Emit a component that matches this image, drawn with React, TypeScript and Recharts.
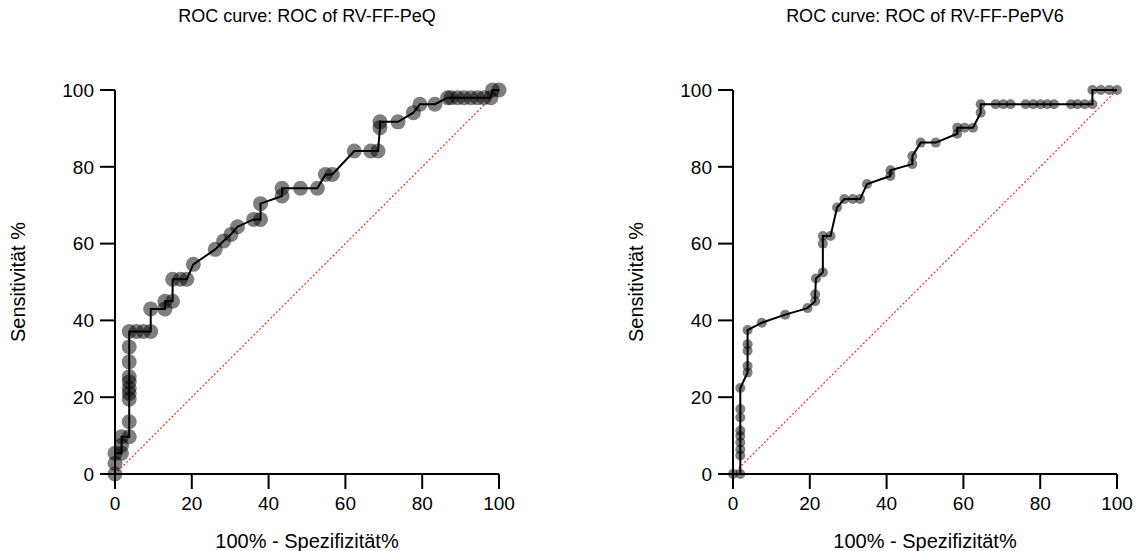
import React from "react";
import { ScatterChart, Scatter, XAxis, YAxis } from "recharts";

// ROC points (x = 100% - Spezifizität%, y = Sensitivität %)
const peqX = [0, 0, 0, 1.7, 1.7, 1.7, 3.7, 3.7, 3.7, 3.7, 3.7, 3.7, 3.7, 3.7, 3.7, 3.7, 5.6, 7.4, 9.3, 9.3, 13, 13, 15, 15, 17, 18.7, 20.4, 26.1, 28.3, 30.2, 31.9, 36.1, 37.9, 37.9, 43.5, 43.5, 48.3, 52.7, 54.8, 56.6, 62.3, 66.6, 68.5, 69, 69, 73.7, 77.7, 79.4, 83.3, 86.6, 87.5, 89.2, 90.9, 92.7, 94.4, 96.1, 97.9, 98.3, 100];
const peqY = [0, 2.8, 5.4, 5.4, 7.5, 9.7, 9.7, 13.6, 19.5, 21, 22.3, 24, 25.3, 29.2, 33.1, 37.1, 37.1, 37.1, 37.1, 43, 43, 45, 45, 50.7, 50.7, 50.7, 54.6, 58.5, 60.7, 62.4, 64.4, 66.3, 66.3, 70.4, 72.4, 74.4, 74.4, 74.4, 78, 78, 84.1, 84.1, 84.1, 90.2, 91.7, 91.7, 94.1, 96.3, 96.3, 98, 98, 98, 98, 98, 98, 98, 98, 100, 100];

const pv6X = [0, 1.9, 1.9, 1.9, 1.9, 1.9, 1.9, 1.9, 1.9, 1.9, 3.8, 3.8, 3.8, 3.8, 3.8, 7.5, 13.6, 19.4, 21.4, 21.4, 21.6, 23.4, 23.4, 23.4, 25.4, 27.1, 29, 31.2, 33.1, 34.9, 41, 41, 46.7, 46.7, 48.9, 52.8, 58.4, 58.4, 60.3, 62.5, 64.5, 64.5, 68.4, 70.4, 72.3, 76.2, 78.2, 80.1, 81.8, 83.6, 88, 89.7, 91.6, 93.6, 93.6, 95.8, 98, 100];
const pv6Y = [0, 0, 4.8, 6.4, 8.2, 9.9, 11.3, 14.7, 16.9, 22.4, 26.4, 28.1, 32.1, 33.8, 37.5, 39.4, 41.5, 43.2, 45, 46.8, 50.9, 52.5, 60, 62, 62, 69.4, 71.6, 71.6, 71.6, 75.5, 77.6, 79.1, 80.7, 82.8, 86.3, 86.3, 88.6, 90.2, 90.2, 90.2, 94.1, 96.3, 96.3, 96.3, 96.3, 96.3, 96.3, 96.3, 96.3, 96.3, 96.3, 96.3, 96.3, 96.3, 100, 100, 100, 100];

const diagX = [0, 100];
const diagY = [0, 100];

const ticks = [0, 20, 40, 60, 80, 100];

const FONT = "'Liberation Sans', Arial, sans-serif";

const toPts = (xs: number[], ys: number[]) => xs.map((x, i) => ({ x, y: ys[i] }));

function RocChart({ title, xs, ys, r, left }: { title: string; xs: number[]; ys: number[]; r: number; left: number }) {
  const pts = toPts(xs, ys);
  const diag = toPts(diagX, diagY);
  const dot = (p: any) => <circle cx={p.cx} cy={p.cy} r={r} fill="#000" fillOpacity={0.5} />;
  const none = () => <g />;
  const tick = { fill: "#000", fontSize: 19, fontFamily: FONT };
  return (
    <div style={{ position: "absolute", left, top: 0, width: 519, height: 551 }}>
      <div style={{ position: "absolute", left: 0, width: 614, top: 6, textAlign: "center", fontFamily: FONT, fontSize: 18, color: "#000" }}>
        {title}
      </div>
      <ScatterChart width={519} height={551} margin={{ top: 90, right: 20, bottom: 0, left: 0 }}>
        <XAxis
          type="number" dataKey="x" domain={[0, 100]} ticks={ticks} height={77}
          axisLine={{ stroke: "#000", strokeWidth: 2 }} tickLine={{ stroke: "#000", strokeWidth: 2 }}
          tickSize={15} tickMargin={8} tick={tick}
          label={{ value: "100% - Spezifizität%", position: "insideBottom", offset: 3, style: { fill: "#000", fontSize: 20, fontFamily: FONT } }}
        />
        <YAxis
          type="number" dataKey="y" domain={[0, 100]} ticks={ticks} width={115}
          axisLine={{ stroke: "#000", strokeWidth: 2 }} tickLine={{ stroke: "#000", strokeWidth: 2 }}
          tickSize={15} tickMargin={6} tick={tick}
          label={{ value: "Sensitivität %", angle: -90, position: "insideLeft", offset: 18, style: { fill: "#000", fontSize: 20, fontFamily: FONT, textAnchor: "middle" } }}
        />
        <Scatter data={diag} shape={none} line={{ stroke: "#ff2a1a", strokeWidth: 1.2, strokeDasharray: "2 2" }} isAnimationActive={false} />
        <Scatter data={pts} shape={dot} isAnimationActive={false} />
        <Scatter data={pts} shape={none} line={{ stroke: "#000", strokeWidth: 2 }} isAnimationActive={false} />
      </ScatterChart>
    </div>
  );
}

export default function App() {
  return (
    <div style={{ position: "absolute", left: 0, top: 0, width: 1137, height: 551, background: "#fff" }}>
      <RocChart title="ROC curve: ROC of RV-FF-PeQ" xs={peqX} ys={peqY} r={7.5} left={0} />
      <RocChart title="ROC curve: ROC of RV-FF-PePV6" xs={pv6X} ys={pv6Y} r={5} left={618} />
    </div>
  );
}
